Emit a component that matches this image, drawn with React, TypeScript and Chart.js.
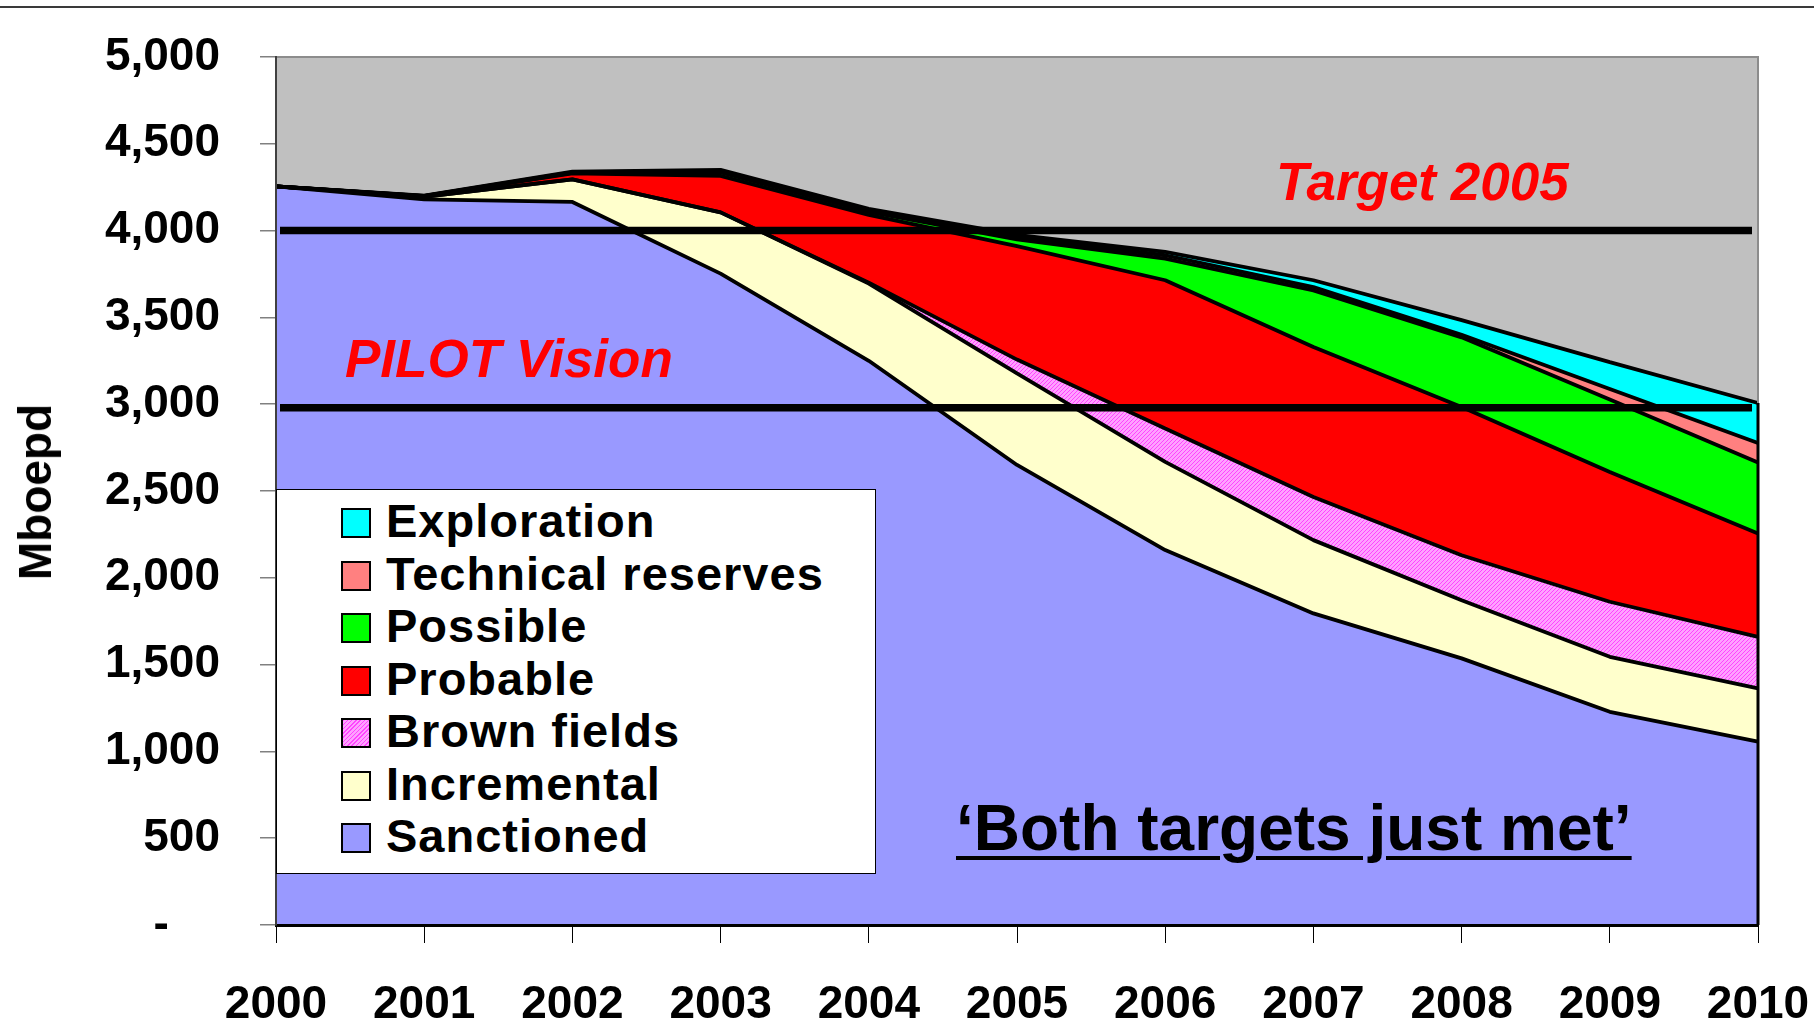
import React, { useEffect, useRef } from 'react';
import { Chart, registerables } from 'chart.js';

Chart.register(...registerables);

// ---------- data ----------
const YEARS = ['2000', '2001', '2002', '2003', '2004', '2005', '2006', '2007', '2008', '2009', '2010'];
const SANCTIONED = [4255, 4180, 4165, 3752, 3250, 2650, 2160, 1795, 1536, 1228, 1056];
const INCREMENTAL = [0, 15, 130, 353, 445, 527, 508, 422, 335, 317, 307];
const BROWN_FIELDS = [0, 0, 0, 0, 5, 80, 192, 249, 259, 317, 297];
const PROBABLE = [0, 3, 35, 210, 390, 653, 854, 864, 854, 748, 595];
const POSSIBLE = [0, 0, 3, 20, 18, 40, 125, 326, 401, 417, 409];
const TECHNICAL_RESERVES = [0, 2, 3, 7, 7, 12, 19, 19, 15, 61, 113];
const EXPLORATION = [0, 2, 4, 8, 10, 13, 19, 39, 84, 154, 230];

const SERIES_LABELS = ['Sanctioned', 'Incremental', 'Brown fields', 'Probable', 'Possible', 'Technical reserves', 'Exploration'];
const SERIES_VALUES = [SANCTIONED, INCREMENTAL, BROWN_FIELDS, PROBABLE, POSSIBLE, TECHNICAL_RESERVES, EXPLORATION];
const SERIES_COLORS = ['#9999FF', '#FFFFCC', 'HATCH', '#FF0000', '#00FF00', '#FF8080', '#00FFFF'];

const Y_MIN = 0;
const Y_MAX = 5000;
const Y_STEP = 500;

const TARGET_2005 = 4000;
const PILOT_VISION = 2980;

const FONT = '"Liberation Sans", Arial, Helvetica, sans-serif';

function makeHatch(): CanvasPattern | string {
  const c = document.createElement('canvas');
  c.width = 4;
  c.height = 4;
  const g = c.getContext('2d');
  if (!g) return '#FF80FF';
  g.fillStyle = '#FFA0FF';
  g.fillRect(0, 0, 4, 4);
  g.fillStyle = '#FF44FF';
  for (let i = 0; i < 4; i++) {
    g.fillRect(i, 3 - i, 1, 1);
  }
  const p = g.createPattern(c, 'repeat');
  return p || '#FF80FF';
}

const framePlugin = {
  id: 'frame',
  beforeDraw(chart: any) {
    const { ctx, chartArea: a } = chart;
    ctx.save();
    ctx.fillStyle = '#C0C0C0';
    ctx.fillRect(a.left, a.top, a.right - a.left, a.bottom - a.top);
    ctx.restore();
  },
  afterDatasetsDraw(chart: any) {
    const { ctx, chartArea: a } = chart;
    const ys = chart.scales.y;
    ctx.save();
    ctx.strokeStyle = '#8C8C8C';
    ctx.lineWidth = 2;
    ctx.beginPath();
    ctx.moveTo(a.left, a.top);
    ctx.lineTo(a.right, a.top);
    ctx.lineTo(a.right, a.bottom);
    ctx.stroke();
    const last = YEARS.length - 1;
    let total = 0;
    SERIES_VALUES.forEach((s) => (total += s[last]));
    ctx.strokeStyle = '#000';
    ctx.lineWidth = 3;
    ctx.beginPath();
    ctx.moveTo(a.right, ys.getPixelForValue(total));
    ctx.lineTo(a.right, a.bottom);
    ctx.stroke();
    ctx.lineWidth = 7.5;
    ctx.lineCap = 'butt';
    [TARGET_2005, PILOT_VISION].forEach((v) => {
      const y = ys.getPixelForValue(v);
      ctx.beginPath();
      ctx.moveTo(a.left + 4, y);
      ctx.lineTo(a.right - 6, y);
      ctx.stroke();
    });
    ctx.restore();
  },
};

function zeroPadding(s: any) {
  s.paddingTop = 0;
  s.paddingBottom = 0;
  s.paddingLeft = 0;
  s.paddingRight = 0;
}

function ChartCanvas() {
  const ref = useRef<HTMLCanvasElement | null>(null);
  useEffect(() => {
    if (!ref.current) return;
    const hatch = makeHatch();
    const datasets = SERIES_LABELS.map((label, i) => ({
      label,
      data: SERIES_VALUES[i],
      backgroundColor: SERIES_COLORS[i] === 'HATCH' ? hatch : SERIES_COLORS[i],
      borderColor: '#000000',
      borderWidth: 3.8,
      borderJoinStyle: 'bevel' as const,
      pointRadius: 0,
      pointHoverRadius: 0,
      tension: 0,
      fill: i === 0 ? 'origin' : '-1',
    }));
    const chart = new Chart(ref.current, {
      type: 'line',
      data: { labels: YEARS, datasets: datasets as any },
      options: {
        animation: false,
        responsive: false,
        events: [],
        layout: { padding: { top: 57, right: 56, left: 0, bottom: 0 } },
        plugins: {
          legend: { display: false },
          tooltip: { enabled: false },
          title: { display: false },
          filler: { drawTime: 'beforeDatasetsDraw' },
        } as any,
        scales: {
          x: {
            type: 'category',
            offset: false,
            afterFit: (s: any) => {
              s.height = 99;
              zeroPadding(s);
            },
            grid: {
              drawOnChartArea: false,
              drawTicks: true,
              tickLength: 18,
              color: '#000000',
              lineWidth: 1,
            },
            border: { display: true, color: '#000000', width: 3, z: 1 } as any,
            ticks: {
              autoSkip: false,
              maxRotation: 0,
              minRotation: 0,
              padding: 35,
              color: '#000000',
              font: { family: FONT, size: 46, weight: 'bold' },
            },
          },
          y: {
            stacked: true,
            min: Y_MIN,
            max: Y_MAX,
            afterFit: (s: any) => {
              s.width = 276;
              zeroPadding(s);
            },
            grid: {
              drawOnChartArea: false,
              drawTicks: true,
              tickLength: 16,
              color: '#808080',
              lineWidth: 1.5,
            },
            border: { display: true, color: '#404040', width: 2, z: 1 } as any,
            ticks: {
              stepSize: Y_STEP,
              padding: 40,
              color: '#000000',
              font: { family: FONT, size: 46, weight: 'bold' },
              callback: (v: any) => (Number(v) === 0 ? '-    ' : Number(v).toLocaleString('en-US')),
            },
          },
        },
      },
      plugins: [framePlugin],
    });
    return () => chart.destroy();
  }, []);
  return <canvas ref={ref} width={1814} height={1024} style={{ position: 'absolute', left: 0, top: 0, width: 1814, height: 1024 }} />;
}

const LEGEND_ORDER = SERIES_LABELS.map((l, i) => ({ label: l, color: SERIES_COLORS[i] })).reverse();

function Legend() {
  const rowStart = 522;
  const rowStep = 52.5;
  return (
    <div
      style={{
        position: 'absolute',
        left: 276,
        top: 489,
        width: 600,
        height: 385,
        background: '#FFFFFF',
        border: '1.5px solid #000',
        boxSizing: 'border-box',
      }}
    >
      {LEGEND_ORDER.map((it, i) => {
        const cy = rowStart + i * rowStep - 489;
        const bg =
          it.color === 'HATCH'
            ? 'repeating-linear-gradient(135deg, #FF44FF 0px, #FF44FF 1px, #FFA0FF 1px, #FFA0FF 3px)'
            : it.color;
        return (
          <React.Fragment key={it.label}>
            <div
              style={{
                position: 'absolute',
                left: 340 - 276,
                top: cy - 15,
                width: 30,
                height: 30,
                background: bg,
                border: '2.5px solid #000',
                boxSizing: 'border-box',
              }}
            />
            <div
              style={{
                position: 'absolute',
                left: 385 - 276,
                top: cy - 2 - 26,
                height: 52,
                lineHeight: '52px',
                fontFamily: FONT,
                fontWeight: 'bold',
                fontSize: 47,
                letterSpacing: '1px',
                color: '#000',
                whiteSpace: 'nowrap',
              }}
            >
              {it.label}
            </div>
          </React.Fragment>
        );
      })}
    </div>
  );
}

export default function App() {
  return (
    <div
      style={{
        position: 'fixed',
        left: 0,
        top: 0,
        width: 1814,
        height: 1024,
        background: '#FFFFFF',
        overflow: 'hidden',
      }}
    >
      <div style={{ position: 'absolute', left: 0, top: 6, width: 1814, height: 2, background: '#3A3A3A' }} />
      <ChartCanvas />
      <Legend />
      <div
        style={{
          position: 'absolute',
          left: 1276,
          top: 200 - 0.8465 * 53,
          lineHeight: 1,
          fontFamily: FONT,
          fontWeight: 'bold',
          fontStyle: 'italic',
          fontSize: 53,
          color: '#FF0000',
          whiteSpace: 'nowrap',
        }}
      >
        Target 2005
      </div>
      <div
        style={{
          position: 'absolute',
          left: 345,
          top: 377 - 0.8465 * 53,
          lineHeight: 1,
          fontFamily: FONT,
          fontWeight: 'bold',
          fontStyle: 'italic',
          fontSize: 53,
          color: '#FF0000',
          whiteSpace: 'nowrap',
        }}
      >
        PILOT Vision
      </div>
      <div
        style={{
          position: 'absolute',
          left: 956,
          top: 850 - 0.8465 * 64,
          lineHeight: 1,
          fontFamily: FONT,
          fontWeight: 'bold',
          fontSize: 64,
          color: '#000000',
          whiteSpace: 'nowrap',
          textDecoration: 'underline',
          textDecorationThickness: '4px',
          textUnderlineOffset: '6px',
        }}
      >
        {'\u2018Both targets just met\u2019'}
      </div>
      <div
        style={{
          position: 'absolute',
          left: 35,
          top: 492,
          lineHeight: 1,
          fontFamily: FONT,
          fontWeight: 'bold',
          fontSize: 46,
          color: '#000000',
          whiteSpace: 'nowrap',
          transform: 'translate(-50%, -50%) rotate(-90deg)',
        }}
      >
        Mboepd
      </div>
    </div>
  );
}
